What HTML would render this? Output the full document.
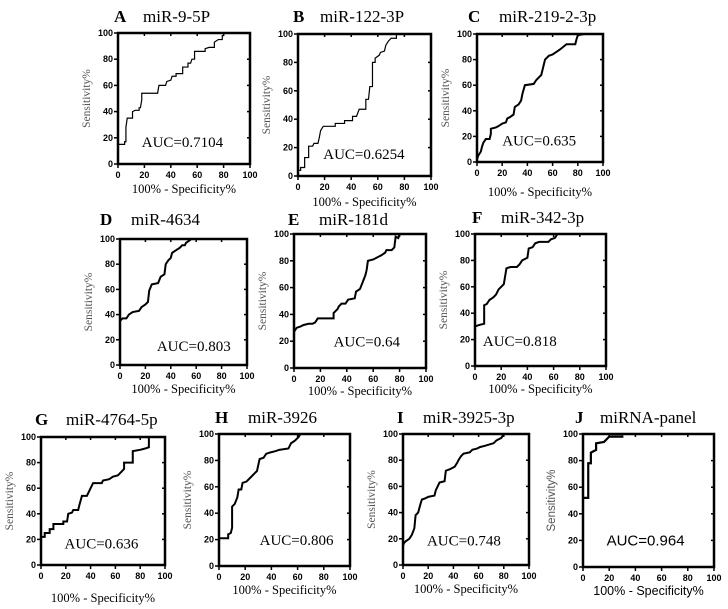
<!DOCTYPE html>
<html><head><meta charset="utf-8"><style>
html,body{margin:0;padding:0;background:#fff;width:728px;height:609px;overflow:hidden}
svg{display:block}
.tk{font-family:"Liberation Sans",sans-serif;font-weight:bold;font-size:9px;fill:#000}
.ttl{font-family:"Liberation Serif",serif;font-size:17px;fill:#000}
.ltr{font-weight:bold}
.xl{font-family:"Liberation Serif",serif;font-size:12.5px;fill:#000}
.yl{font-family:"Liberation Serif",serif;font-size:11.5px;fill:#555}
.auc{font-family:"Liberation Serif",serif;font-size:15px;fill:#000}
.sans{font-family:"Liberation Sans",sans-serif}
</style></head><body>
<svg id="fig" width="728" height="609" viewBox="0 0 728 609"></svg>
<script>
const ticks=[0,20,40,60,80,100];
const aFpr=[0,5,5,6,6,7,11,11,13,16,16,17,18,18,30,31,36,37,40,41,44,44,49,49,53,53,55,56,58,58,66,66,69,73,73,76,79,79,80,80];
const aTpr=[15,15,17,17,28,35,35,40,41,41,43,43,49,54,54,60,60,63,64,67,67,69,69,74,74,77,77,80,80,86,86,88,89,89,93,95,95,98,98,100];
const bFpr=[0,2,2,5,5,8,8,11,12,15,16,17,19,28,28,35,35,41,41,44,46,51,51,53,54,56,56,58,58,61,62,65,66,68,70,74,74];
const bTpr=[4,4,6,6,13,13,21,21,23,23,27,32,35,35,37,37,39,39,42,42,47,47,54,54,63,63,80,80,83,85,87,88,92,95,97,97,100];
const cFpr=[0,1,3,4,5,7,10,11,11,15,17,20,23,24,26,29,30,33,35,36,38,45,47,49,51,52,54,57,60,63,66,71,78,79,80,85];
const cTpr=[2,5,8,12,15,18,18,22,26,27,28,30,31,34,35,37,43,45,48,53,60,61,64,66,68,72,80,83,84,86,88,92,92,96,99,100];
const dFpr=[0,2,5,7,10,15,17,20,22,23,25,30,32,35,36,38,40,41,44,47,49,51,52,55,56];
const dTpr=[35,37,37,40,42,43,46,48,50,59,64,65,70,72,80,83,85,89,91,93,95,95,97,99,100];
const eFpr=[0,0,2,5,7,11,14,16,18,30,30,33,34,36,39,41,46,47,50,52,54,55,56,60,62,66,69,70,74,76,77,79,80];
const eTpr=[21,27,30,31,32,33,33,34,37,37,41,44,46,48,48,51,52,57,59,64,69,73,80,81,82,84,86,88,88,90,98,97,100];
const fFpr=[0,3,7,7,9,11,14,16,18,20,22,24,27,32,34,36,40,41,44,46,49,56,58,61,63];
const fTpr=[30,31,32,46,47,50,52,54,58,60,62,74,75,75,77,80,82,89,90,93,94,94,96,97,100];
const gFpr=[0,3,3,7,7,10,10,18,18,21,22,25,26,30,31,33,37,38,40,42,49,50,55,58,62,64,67,67,74,74,80,84,87,87];
const gTpr=[22,22,25,25,28,28,32,32,34,34,40,41,43,43,47,54,54,56,60,64,64,66,67,69,70,72,75,80,80,89,90,91,92,100];
const hFpr=[0,7,7,9,10,10,12,14,15,17,18,21,23,25,27,29,31,34,36,39,43,46,53,55,58,61,62];
const hTpr=[21,21,24,25,29,45,47,52,58,58,63,64,66,68,70,72,81,82,85,86,87,88,89,93,95,98,100];
const iFpr=[0,1,2,5,7,9,10,12,14,15,18,20,25,26,29,33,34,37,41,43,44,46,48,53,55,59,61,65,72,74,78,80];
const iTpr=[15,17,18,20,23,28,38,40,47,50,51,52,53,57,63,64,72,73,75,78,80,83,85,86,88,89,90,91,93,95,97,100];
const jFpr=[0,4,4,6,6,8,10,10,16,18,20,30,30];
const jTpr=[52,52,78,78,86,87,88,93,94,96,98,98,99];

const panels=[
 {id:'a',L:'A',name:'miR-9-5P',auc:'AUC=0.7104',x0:118,x1:250,y0:164,y1:33,fx:[aFpr,aTpr],lw:1.2,tx:114,tn:143,ty:22,ax:18,ay:13,xly:193},
 {id:'b',L:'B',name:'miR-122-3P',auc:'AUC=0.6254',x0:298,x1:431,y0:176,y1:34,fx:[bFpr,bTpr],lw:1.2,tx:293,tn:320,ty:22,ax:19,ay:12,xly:206},
 {id:'c',L:'C',name:'miR-219-2-3p',auc:'AUC=0.635',x0:477,x1:603,y0:162,y1:34,fx:[cFpr,cTpr],lw:2,tx:468,tn:499,ty:22,ax:20,ay:13,xly:196},
 {id:'d',L:'D',name:'miR-4634',auc:'AUC=0.803',x0:120,x1:247,y0:365,y1:239,fx:[dFpr,dTpr],lw:2,tx:100,tn:131,ty:225,ax:29,ay:11,xly:393},
 {id:'e',L:'E',name:'miR-181d',auc:'AUC=0.64',x0:294,x1:426,y0:368,y1:234,fx:[eFpr,eTpr],lw:2,tx:288,tn:319,ty:225,ax:30,ay:16,xly:395},
 {id:'f',L:'F',name:'miR-342-3p',auc:'AUC=0.818',x0:475,x1:606,y0:366,y1:234,fx:[fFpr,fTpr],lw:2,tx:472,tn:501,ty:223,ax:6,ay:15,xly:393},
 {id:'g',L:'G',name:'miR-4764-5p',auc:'AUC=0.636',x0:41,x1:165,y0:565,y1:437,fx:[gFpr,gTpr],lw:2,tx:35,tn:66,ty:425,ax:19,ay:13,xly:602},
 {id:'h',L:'H',name:'miR-3926',auc:'AUC=0.806',x0:219,x1:350,y0:566,y1:434,fx:[hFpr,hTpr],lw:2,tx:215,tn:248,ty:423,ax:31,ay:16,xly:594},
 {id:'i',L:'I',name:'miR-3925-3p',auc:'AUC=0.748',x0:403,x1:529,y0:565,y1:434,fx:[iFpr,iTpr],lw:2,tx:397,tn:423,ty:423,ax:19,ay:15,xly:593},
 {id:'j',L:'J',name:'miRNA-panel',auc:'AUC=0.964',x0:583,x1:714,y0:567,y1:434,fx:[jFpr,jTpr],lw:2.2,tx:575,tn:600,ty:423,ax:18,ay:16,xly:595,sans:true}
];
const NS='http://www.w3.org/2000/svg';
const svg=document.getElementById('fig');
function mk(tag,attrs,parent,text){const e=document.createElementNS(NS,tag);for(const k in attrs)e.setAttribute(k,attrs[k]);if(text!==undefined)e.textContent=text;parent.appendChild(e);return e;}
panels.forEach(p=>{
 const sx=v=>p.x0+(p.x1-p.x0)*v/100, sy=v=>p.y0+(p.y1-p.y0)*v/100;
 const g=mk('g',{},svg);
 
 
 const t=mk('text',{x:p.tx,y:p.ty,class:'ttl ltr'},g,p.L);
 
 
 const tn=mk('text',{x:p.tn,y:p.ty,class:'ttl'},g,p.name);
 
 
 ticks.forEach(v=>{
  mk('line',{x1:p.x0-4,x2:p.x0,y1:sy(v),y2:sy(v),stroke:'#000','stroke-width':1.5},g);
  mk('line',{x1:p.x1-3,x2:p.x1,y1:sy(v),y2:sy(v),stroke:'#000','stroke-width':1.5},g);
  mk('line',{x1:sx(v),x2:sx(v),y1:p.y0,y2:p.y0+4,stroke:'#000','stroke-width':1.5},g);
  mk('line',{x1:sx(v),x2:sx(v),y1:p.y1,y2:p.y1+3,stroke:'#000','stroke-width':1.5},g);
  const yl=mk('text',{x:p.x0-5,y:sy(v)+3,'text-anchor':'end',class:'tk'},g,String(v));
  
  
  const xl=mk('text',{x:sx(v),y:p.y0+14,'text-anchor':'middle',class:'tk'},g,String(v));
  
  
 });
 const pts=p.fx[0].map((x,i)=>sx(x)+','+sy(p.fx[1][i])).join(' ');
 const c=mk('polyline',{points:pts,fill:'none',stroke:'#000','stroke-width':p.lw,'stroke-linejoin':'miter'},g);
 
 
 const fr=mk('rect',{x:p.x0,y:p.y1,width:p.x1-p.x0,height:p.y0-p.y1,fill:'none',stroke:'#000','stroke-width':2.5},g);
 
 
 const a=mk('text',{x:sx(p.ax),y:sy(p.ay),class:'auc'+(p.sans?' sans':'')},g,p.auc);
 
 
 const xt=mk('text',{x:(p.x0+p.x1)/2,y:p.xly,'text-anchor':'middle',class:'xl'+(p.sans?' sans':'')},g,'100% - Specificity%');
 
 
 const cy=(p.y0+p.y1)/2, cx=p.x0-28;
 const yt=mk('text',{x:cx,y:cy,transform:'rotate(-90 '+cx+' '+cy+')','text-anchor':'middle',class:'yl'+(p.sans?' sans':'')},g,'Sensitivity%');
 
 
});
</script>
</body></html>
